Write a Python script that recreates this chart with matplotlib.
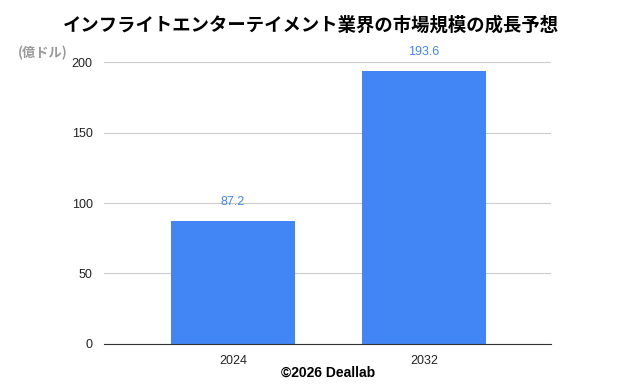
import matplotlib.pyplot as plt

plt.rcParams["font.family"] = ["Noto Sans CJK JP", "DejaVu Sans"]

years = ["2024", "2032"]
market_size = [87.2, 193.6]
y_ticks = [0, 50, 100, 150, 200]

fig = plt.figure(figsize=(6.26, 3.86), dpi=100)
ax = fig.add_axes([0.166, 0.109, 0.714, 0.730])

x = list(range(len(years)))
ax.bar(x, market_size, width=0.65, color="#4285F4", zorder=2)

for xi, v in zip(x, market_size):
    ax.text(xi, v + 9, f"{v}", ha="center", va="bottom", fontsize=9,
            color="#4285F4", family=["Liberation Sans", "DejaVu Sans"])

ax.set_xlim(-0.675, 1.665)
ax.set_ylim(0, 200)
ax.set_yticks(y_ticks)
ax.set_xticks(x)
ax.set_xticklabels(years)
ax.grid(axis="y", color="#cccccc", linewidth=0.8, zorder=0)
ax.tick_params(length=0, labelsize=9, colors="#222222", pad=8)
for lbl in ax.get_xticklabels() + ax.get_yticklabels():
    lbl.set_family(["Liberation Sans", "DejaVu Sans"])
for s in ["top", "right", "left"]:
    ax.spines[s].set_visible(False)
ax.spines["bottom"].set_color("#333333")
ax.spines["bottom"].set_zorder(3)

fig.text(0.497, 0.935, "インフライトエンターテイメント業界の市場規模の成長予想",
         ha="center", va="center", fontsize=13.2, fontweight="bold", color="#000000")
fig.text(0.068, 0.862, "(億ドル)", ha="center", va="center", fontsize=9.5,
         fontweight="bold", color="#999999")
fig.text(0.524, 0.034, "©2026 Deallab", ha="center", va="center", fontsize=10,
         fontweight="bold", color="#000000", family=["Liberation Sans", "DejaVu Sans"])

fig.savefig("out.png", dpi=100)
